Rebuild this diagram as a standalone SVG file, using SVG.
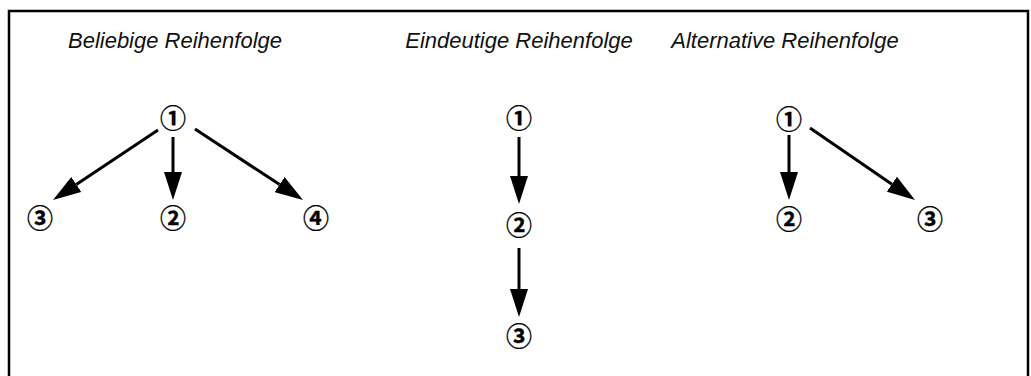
<svg xmlns="http://www.w3.org/2000/svg" width="1031" height="376" viewBox="0 0 1031 376">
<style>
.title{font-family:"Liberation Sans",Arial,sans-serif;font-style:italic;font-size:22px;fill:#111;text-anchor:middle}
.num{font-family:"Noto Sans CJK JP","Noto Sans CJK SC",sans-serif;font-size:26px;font-weight:bold;fill:#000;stroke:#000;stroke-width:0.3;text-anchor:middle;dominant-baseline:central}
.arr{stroke:#000;stroke-width:3;fill:none;marker-end:url(#ah)}
</style>
<defs>
<marker id="ah" markerUnits="userSpaceOnUse" viewBox="0 0 28 18" markerWidth="28" markerHeight="18" refX="0" refY="9" orient="auto">
<path d="M0,0 L28,9 L0,18 z" fill="#000"/>
</marker>
</defs>
<rect x="9" y="11" width="1019" height="400" fill="#fff" stroke="#000" stroke-width="2.5"/>
<g id="titles">
<text class="title" x="175" y="48">Beliebige Reihenfolge</text>
<text class="title" x="519" y="48">Eindeutige Reihenfolge</text>
<text class="title" x="785" y="48">Alternative Reihenfolge</text>
</g>
<g id="connectors">
<line class="arr" x1="158" y1="130" x2="76.3" y2="184.5"/>
<line class="arr" x1="173" y1="137" x2="173" y2="172"/>
<line class="arr" x1="195" y1="129" x2="279.6" y2="184.6"/>
<line class="arr" x1="519" y1="137" x2="519" y2="176"/>
<line class="arr" x1="519" y1="248" x2="519" y2="289"/>
<line class="arr" x1="789" y1="135" x2="789" y2="172"/>
<line class="arr" x1="810" y1="128" x2="891.9" y2="184.2"/>
</g>
<g id="n-a1"><text class="num" x="173" y="116">①</text></g>
<g id="n-a3"><text class="num" x="40" y="216">③</text></g>
<g id="n-a2"><text class="num" x="173" y="216">②</text></g>
<g id="n-a4"><text class="num" x="316" y="216">④</text></g>
<g id="n-b1"><text class="num" x="519" y="116">①</text></g>
<g id="n-b2"><text class="num" x="519" y="223">②</text></g>
<g id="n-b3"><text class="num" x="519" y="334">③</text></g>
<g id="n-c1"><text class="num" x="789" y="117">①</text></g>
<g id="n-c2"><text class="num" x="789" y="217">②</text></g>
<g id="n-c3"><text class="num" x="930" y="217">③</text></g>
</svg>
